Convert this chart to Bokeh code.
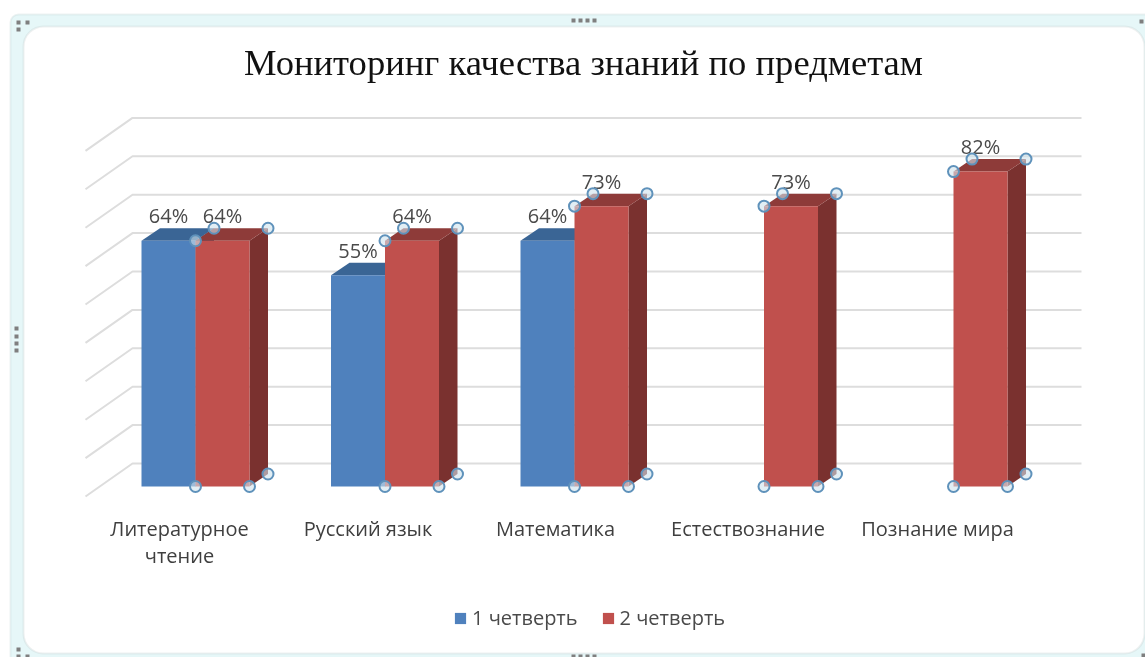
from bokeh.plotting import figure
from bokeh.embed import file_html
from bokeh.resources import INLINE
from bokeh.core.properties import value
from bokeh.models import Range1d, Legend, LegendItem, BoxAnnotation, ColumnDataSource

title_text = "Мониторинг качества знаний по предметам"
categories = ["Литературное\nчтение", "Русский язык", "Математика", "Естествознание", "Познание мира"]
series_names = ["1 четверть", "2 четверть"]
q1_values = [64, 55, 64, None, None]
q2_values = [64, 64, 73, 73, 82]
wall_levels = [0, 10, 20, 30, 40, 50, 60, 70, 80, 90]

W, H = 1145, 657
PX_X, PX_Y = 189.5, 3.84      # pixels per category and per percent
X0, Y0 = 195, 486             # pixel of category 0 boundary / of 0 %

BAR_W = 54 / PX_X
DEPTH_X = 18.5 / PX_X
DEPTH_Y = 12.5 / PX_Y
WALL_UP = 23 / PX_Y
WALL_L, WALL_R = (132 - X0) / PX_X, (1081 - X0) / PX_X
SLANT_X, SLANT_Y = 47 / PX_X, 33 / PX_Y
LABEL_SHIFTS = [-16 / PX_X, -17 / PX_X, -19 / PX_X, -16 / PX_X, -16 / PX_X]
LABEL_BELOW = 28 / PX_Y
TITLE_UP = 424.5 / PX_Y
TITLE_X = (583 - X0) / PX_X

p = figure(width=W, height=H,
           x_range=Range1d(-X0 / PX_X, (W - X0) / PX_X),
           y_range=Range1d((Y0 - H) / PX_Y, Y0 / PX_Y),
           min_border=0, x_axis_type=None, y_axis_type=None,
           toolbar_location=None, output_backend="svg",
           background_fill_color="white", border_fill_color="white",
           outline_line_color=None)
p.grid.visible = False
p.styles = {"filter": "blur(0.45px)"}

# chart frame (given in page pixels, converted to the plot's data space)
def box(l, t, r, b, fill, line=None, lw=0, radius=0):
    p.add_layout(BoxAnnotation(left=(l - X0) / PX_X, right=(r - X0) / PX_X,
                               top=(Y0 - t) / PX_Y, bottom=(Y0 - b) / PX_Y,
                               fill_color=fill, fill_alpha=1, line_color=line,
                               line_width=lw, border_radius=radius, level="underlay",
                               editable=False))
box(10, 14, 1170, 690, "#e6f7f8", "#c4d4d5", 2, 8)
box(23, 26, 1144, 653, "white", "#c2cdcd", 2, 20)
for (cx, cy) in [(573, 20), (580, 20), (587, 20), (594, 20),
                 (16, 328), (16, 336), (16, 343), (16, 350),
                 (18, 22), (27, 22), (18, 29), (1141, 21),
                 (18, 649), (18, 656), (27, 656), (1143, 655),
                 (573, 656), (580, 656), (587, 656), (594, 656)]:
    box(cx - 2, cy - 2, cx + 2, cy + 2, "#7f7f7f")

# back wall gridlines
p.multi_line(xs=[[WALL_L - SLANT_X, WALL_L, WALL_R] for _ in wall_levels],
             ys=[[g + WALL_UP - SLANT_Y, g + WALL_UP, g + WALL_UP] for g in wall_levels],
             line_color="#dddddd", line_width=2)

def bar_3d(v, x0, front, top, side):
    x1 = x0 + BAR_W
    p.patch([x1, x1 + DEPTH_X, x1 + DEPTH_X, x1], [0, DEPTH_Y, v + DEPTH_Y, v], fill_color=side, line_color=None)
    p.patch([x0, x0 + DEPTH_X, x1 + DEPTH_X, x1], [v, v + DEPTH_Y, v + DEPTH_Y, v], fill_color=top, line_color=None)
    return p.quad(left=[x0], right=[x1], bottom=[0], top=[v], fill_color=front, line_color=None)

blue_r, red_r = None, None
for i, v in enumerate(q1_values):
    if v is not None:
        blue_r = bar_3d(v, i - BAR_W, "#4f81bd", "#3a6595", "#2f5480")
for i, v in enumerate(q2_values):
    red_r = bar_3d(v, i, "#c0504d", "#8e3b39", "#7a312f")

# data labels
lab_x, lab_y, lab_t = [], [], []
for i, v in enumerate(q1_values):
    if v is not None:
        lab_x.append(i - BAR_W / 2); lab_y.append(v + 6.5); lab_t.append(f"{v}%")
for i, v in enumerate(q2_values):
    lab_x.append(i + BAR_W / 2); lab_y.append(v + 6.5); lab_t.append(f"{v}%")
p.text(x="x", y="y", text="t", source=ColumnDataSource(dict(x=lab_x, y=lab_y, t=lab_t)),
       text_align="center", text_baseline="middle", text_font_size="20px",
       text_color="#4a4a4a", text_font=value("Open Sans"))

# selection handles on series 2
hx, hy = [], []
for i, v in enumerate(q2_values):
    hx += [i, i + BAR_W, i + BAR_W + DEPTH_X, i + BAR_W + DEPTH_X, i + DEPTH_X, i]
    hy += [0, 0, DEPTH_Y, v + DEPTH_Y, v + DEPTH_Y, v]
p.scatter(hx, hy, size=11, fill_color="#cfe3ec", fill_alpha=0.6,
          line_color="#5f92bb", line_width=2)

# category labels
p.text(x=[i + s for i, s in enumerate(LABEL_SHIFTS)],
       y=[-LABEL_BELOW] * len(categories), text=categories,
       text_align="center", text_baseline="top", text_font_size="20px",
       text_line_height=1.0, text_color="#3f3f3f", text_font=value("Open Sans"))

# title
p.text(x=[TITLE_X], y=[TITLE_UP], text=[title_text], text_align="center", text_baseline="middle",
       text_font_size="36.6px", text_color="#111111", text_font=value("Liberation Serif"))

legend = Legend(items=[LegendItem(label=series_names[0], renderers=[blue_r]),
                       LegendItem(label=series_names[1], renderers=[red_r])],
                orientation="horizontal", location=(453, 26),
                background_fill_alpha=0, border_line_color=None,
                glyph_width=14, glyph_height=14, label_standoff=5, spacing=23,
                label_text_font="Open Sans", label_text_font_size="20px",
                label_text_color="#4a4a4a", margin=0, padding=8)
p.add_layout(legend, "center")

open("out.html", "w").write(file_html(p, INLINE))
